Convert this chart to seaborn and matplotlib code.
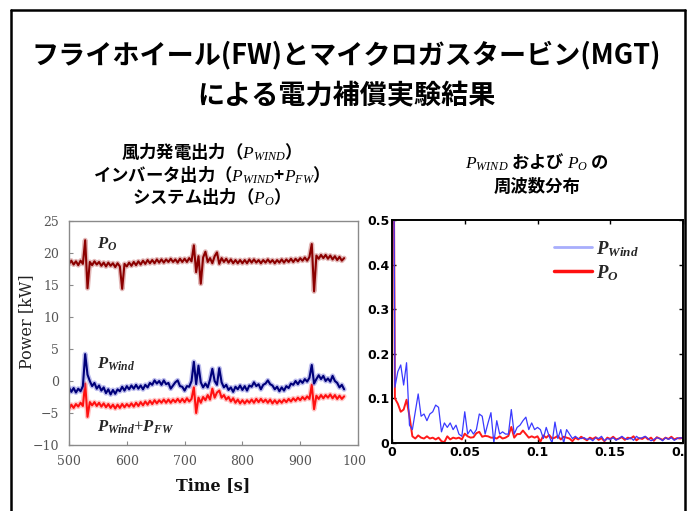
import numpy as np
import pandas as pd
import matplotlib
matplotlib.use("Agg")
import matplotlib.pyplot as plt
from matplotlib.lines import Line2D
from matplotlib.patches import Rectangle
import seaborn as sns

# ---- time-domain measurements (kW), sampled every 4 s from 500 s to 976 s ----
time_s = np.arange(500, 980, 4)

p_o = [18.3, 18.8, 18.2, 18.7, 18.1, 18.8, 18.3, 22.0, 14.5, 18.6,
       18.1, 18.7, 18.2, 18.6, 18.0, 18.5, 17.9, 18.5, 18.0, 18.4,
       17.8, 18.4, 17.9, 14.4, 18.3, 17.9, 18.5, 18.0, 18.6, 18.1,
       18.7, 18.2, 18.8, 18.3, 18.9, 18.4, 18.9, 18.4, 19.0, 18.5,
       19.0, 18.5, 19.0, 18.6, 19.1, 18.6, 19.0, 18.5, 19.1, 18.6,
       19.1, 18.6, 19.2, 18.7, 21.2, 17.0, 19.5, 15.2, 19.3, 20.2,
       18.6, 19.2, 18.4, 19.5, 20.1, 18.3, 19.2, 18.6, 19.1, 18.5,
       19.0, 18.4, 18.9, 18.4, 18.9, 18.4, 18.9, 18.4, 19.0, 18.5,
       19.0, 18.5, 18.9, 18.4, 18.9, 18.5, 19.0, 18.5, 18.9, 18.4,
       18.9, 18.5, 19.0, 18.5, 19.0, 18.6, 19.1, 18.6, 19.1, 18.7,
       19.2, 18.8, 19.3, 18.8, 19.4, 21.4, 14.0, 19.6, 19.1, 19.7,
       19.2, 19.7, 19.1, 19.6, 19.0, 19.5, 18.9, 19.4, 18.8, 19.2]

p_wind = [-1.0, -1.7, -1.1, -1.8, -1.2, -1.6, -0.8, 4.2, 1.0, 0.0,
          -0.8, -0.3, -1.2, -0.7, -1.5, -1.0, -1.9, -1.3, -2.1, -1.4,
          -2.0, -1.3, -1.6, -0.9, -1.5, -0.8, -1.3, -0.7, -1.2, -0.6,
          -1.2, -0.7, -1.3, -0.6, -1.0, -0.3, -0.6, 0.1, -0.4, 0.0,
          -0.6, 0.1, -0.5, -0.3, -1.2, -0.7, -0.2, 0.1, -0.8, -0.9,
          -1.5, -0.8, -0.9, 0.0, 3.0, -0.5, 2.4, -0.2, -1.0, -0.4,
          -1.0, 0.2, 1.9, 0.0, -0.6, 2.0, -0.2, -1.0, -0.6, -1.4,
          -1.0, -1.7, -0.9, -1.3, -0.7, -1.4, -0.8, -1.5, -0.7, -0.9,
          -0.2, -0.8, -0.5, -1.3, -0.6, -0.4, 0.1, -0.5, -0.7, -1.3,
          -0.9, -1.6, -1.0, -1.5, -0.8, -1.1, -0.4, -0.6, 0.0, -0.5,
          0.1, -0.3, 0.3, -0.1, 0.5, 2.5, -0.4, 0.3, 0.9, 0.3,
          0.8, 0.0, 0.4, -0.1, 0.8, 0.0, -0.3, -1.0, -0.6, -1.3]

p_wind_fw = [-4.4, -3.7, -4.2, -3.6, -4.0, -3.4, -3.9, -0.4, -5.6, -3.3,
             -3.8, -3.3, -3.9, -3.4, -4.0, -3.5, -4.1, -3.6, -4.2, -3.7,
             -4.3, -3.7, -4.2, -3.6, -4.1, -3.6, -4.0, -3.5, -4.0, -3.4,
             -3.9, -3.3, -3.8, -3.2, -3.7, -3.1, -3.6, -3.0, -3.5, -3.0,
             -3.4, -2.9, -3.4, -2.9, -3.4, -2.9, -3.3, -2.8, -3.3, -2.8,
             -3.3, -2.7, -3.2, -2.8, -1.0, -5.0, -2.6, -3.4, -2.5, -3.0,
             -2.2, -2.9, -1.2, -2.6, -1.8, -1.5, -2.6, -2.2, -2.9, -2.5,
             -3.2, -2.7, -3.4, -2.9, -3.5, -3.0, -3.5, -3.0, -3.4, -2.9,
             -3.4, -2.8, -3.3, -2.8, -3.3, -2.9, -3.4, -2.9, -3.5, -3.0,
             -3.5, -3.0, -3.4, -2.9, -3.3, -2.8, -3.2, -2.7, -3.1, -2.6,
             -3.0, -2.5, -2.9, -2.4, -2.8, -0.6, -4.4, -2.3, -2.8, -2.2,
             -2.7, -2.2, -2.6, -2.1, -2.7, -2.2, -2.8, -2.3, -2.8, -2.4]

# ---- frequency distribution, bins of 0.002 Hz from 0 to 0.2 Hz ----
freq_hz = np.arange(101) * 0.002

spec_wind = [1.5, 0.125, 0.16, 0.175, 0.13, 0.18, 0.04, 0.03, 0.07, 0.11,
             0.06, 0.065, 0.05, 0.065, 0.07, 0.085, 0.08, 0.025, 0.045, 0.035,
             0.045, 0.03, 0.04, 0.02, 0.015, 0.07, 0.02, 0.03, 0.02, 0.03,
             0.065, 0.06, 0.02, 0.045, 0.068, 0.0, 0.05, 0.02, 0.025, 0.02,
             0.02, 0.075, 0.02, 0.035, 0.04, 0.05, 0.058, 0.03, 0.045, 0.03,
             0.035, 0.03, 0.01, 0.035, 0.015, 0.0, 0.047, 0.01, 0.03, 0.0,
             0.03, 0.02, 0.01, 0.015, 0.01, 0.01, 0.012, 0.008, 0.01, 0.005,
             0.012, 0.01, 0.015, 0.005, 0.01, 0.008, 0.012, 0.006, 0.01, 0.015,
             0.01, 0.008, 0.012, 0.006, 0.015, 0.01, 0.012, 0.015, 0.01, 0.005,
             0.008, 0.012, 0.01, 0.005, 0.012, 0.008, 0.012, 0.006, 0.01, 0.012,
             0.01]

spec_o = [1.5, 0.10, 0.088, 0.07, 0.075, 0.097, 0.06, 0.015, 0.01, 0.017,
          0.012, 0.01, 0.015, 0.01, 0.012, 0.008, 0.012, 0.004, 0.002, 0.015,
          0.008, 0.012, 0.01, 0.012, 0.008, 0.021, 0.015, 0.012, 0.013, 0.022,
          0.025, 0.014, 0.016, 0.015, 0.012, 0.012, 0.01, 0.015, 0.01, 0.012,
          0.016, 0.036, 0.012, 0.02, 0.02, 0.028, 0.02, 0.012, 0.015, 0.012,
          0.015, 0.003, 0.017, 0.012, 0.018, 0.01, 0.012, 0.016, 0.008, 0.014,
          0.012, 0.01, 0.004, 0.012, 0.008, 0.014, 0.01, 0.006, 0.012, 0.009,
          0.013, 0.007, 0.011, 0.004, 0.012, 0.009, 0.014, 0.008, 0.01, 0.013,
          0.007, 0.012, 0.01, 0.015, 0.006, 0.011, 0.009, 0.014, 0.008, 0.012,
          0.005, 0.013, 0.01, 0.007, 0.012, 0.009, 0.014, 0.008, 0.011, 0.01,
          0.012]

x_ticks_time = [500, 600, 700, 800, 900, 1000]
y_ticks_power = [-10, -5, 0, 5, 10, 15, 20, 25]
x_ticks_freq = [0, 0.05, 0.1, 0.15, 0.2]
x_ticklabels_freq = ["0", "0.05", "0.1", "0.15", "0.2"]
y_ticks_freq = [0, 0.1, 0.2, 0.3, 0.4, 0.5]
y_ticklabels_freq = ["0", "0.1", "0.2", "0.3", "0.4", "0.5"]

sns.set_style("white")
plt.rcParams["font.family"] = ["Noto Sans CJK JP", "DejaVu Sans"]
plt.rcParams["mathtext.fontset"] = "custom"
plt.rcParams["mathtext.it"] = "Liberation Serif:italic"
plt.rcParams["mathtext.rm"] = "Liberation Serif"
plt.rcParams["mathtext.bf"] = "Liberation Serif:bold:italic"

W, H = 693, 511
fig = plt.figure(figsize=(W / 100, H / 100), dpi=100)
fig.patch.set_facecolor("white")


def fx(px):
    return px / W


def fy(py):
    return 1 - py / H


# ---- left: power time series ----
ax1 = fig.add_axes([fx(69), fy(445), fx(358 - 69), (445 - 221) / H])
ax1.set_zorder(0)
ts = pd.DataFrame({"t": time_s, "po": p_o, "pw": p_wind, "pwfw": p_wind_fw})
series = [("po", "#8b0000", "#c06060"),
          ("pwfw", "#ff1010", "#ff8080"),
          ("pw", "#00007a", "#6f6fd8")]
for col, core, halo in series:
    # soft halo for the measurement noise band, then the trace itself
    sns.lineplot(data=ts, x="t", y=col, ax=ax1, color=halo, lw=3.6, alpha=0.45,
                 estimator=None)
    sns.lineplot(data=ts, x="t", y=col, ax=ax1, color=core, lw=1.5, estimator=None)
ax1.set_xlim(500, 1000)
ax1.set_ylim(-10, 25)
ax1.set_xticks(x_ticks_time)
ax1.set_yticks(y_ticks_power)
for sp in ax1.spines.values():
    sp.set_color("#8a8a8a")
    sp.set_linewidth(1.0)
ax1.tick_params(axis="both", direction="in", length=3, width=0.8, color="#8a8a8a",
                labelsize=9, labelcolor="#555555", pad=7,
                bottom=True, left=True, top=False, right=False)
for lab in ax1.get_xticklabels() + ax1.get_yticklabels():
    lab.set_family("DejaVu Serif")
ax1.set_xlabel("Time [s]", family="DejaVu Serif", fontweight="bold", fontsize=11.5,
               color="#111111", labelpad=7)
ax1.set_ylabel("Power [kW]", family="DejaVu Serif", fontsize=11.5, color="#222222")
ax1.yaxis.set_label_coords((35 - 69) / 289, 0.55)
ax1.text(549, 21.3, r"$\mathbf{P_{O}}$", fontsize=12, va="center", ha="left")
ax1.text(549, 2.6, r"$\mathbf{P_{Wind}}$", fontsize=12, va="center", ha="left")
ax1.text(549, -7.2, r"$\mathbf{P_{Wind}}$+$\mathbf{P_{FW}}$", fontsize=12,
         va="center", ha="left", family="Liberation Serif")

# backdrop of the right-hand picture, which hides the end of the "1000" label
fig.patches.append(Rectangle((fx(366), 0), fx(685 - 366), fy(200), transform=fig.transFigure,
                             facecolor="white", edgecolor="none", zorder=0.5))

# ---- right: frequency distribution ----
ax2 = fig.add_axes([fx(392), fy(443), fx(683 - 392), (443 - 220) / H])
ax2.set_zorder(1)
sp_df = pd.DataFrame({"f": freq_hz, "wind": spec_wind, "o": spec_o})
sns.lineplot(data=sp_df, x="f", y="o", ax=ax2, color="#ff1a1a", lw=1.4, estimator=None)
sns.lineplot(data=sp_df, x="f", y="wind", ax=ax2, color="#3a3aff", lw=0.9, estimator=None)
ax2.set_xlim(0, 0.2)
ax2.set_ylim(0, 0.5)
ax2.set_xticks(x_ticks_freq)
ax2.set_xticklabels(x_ticklabels_freq)
ax2.set_yticks(y_ticks_freq)
ax2.set_yticklabels(y_ticklabels_freq)
ax2.set_xlabel("")
ax2.set_ylabel("")
for sp in ax2.spines.values():
    sp.set_color("black")
    sp.set_linewidth(1.4)
ax2.tick_params(axis="both", direction="in", length=3, width=1.0, color="black",
                labelsize=9, labelcolor="black", pad=2,
                bottom=True, left=True, top=True, right=True)
for lab in ax2.get_xticklabels() + ax2.get_yticklabels():
    lab.set_family("DejaVu Sans")
    lab.set_fontweight("bold")
handles = [Line2D([], [], color="#a8aefc", lw=2.0), Line2D([], [], color="#ff1010", lw=2.5)]
ax2.legend(handles, [r"$\mathbf{P_{Wind}}$", r"$\mathbf{P_{O}}$"], loc="upper left",
           bbox_to_anchor=(0.5, 0.995), frameon=False, fontsize=13.5,
           handlelength=2.0, handletextpad=0.2, labelspacing=0.15)

# margin right of the slide frame
fig.patches.append(Rectangle((fx(686), 0), fx(W - 686), 1, transform=fig.transFigure,
                             facecolor="white", edgecolor="none", zorder=3))

# ---- slide frame ----
frame_kw = dict(transform=fig.transFigure, color="black", lw=1.8, zorder=4)
fig.add_artist(Line2D([fx(11), fx(11)], [0, fy(10)], **frame_kw))
fig.add_artist(Line2D([fx(11), fx(685)], [fy(10), fy(10)], **frame_kw))
fig.add_artist(Line2D([fx(685), fx(685)], [0, fy(10)], **frame_kw))

# ---- titles ----
fig.text(0.5, fy(55), "フライホイール(FW)とマイクロガスタービン(MGT)", ha="center", va="center",
         fontsize=19.5, fontweight="bold", color="black")
fig.text(0.5, fy(95), "による電力補償実験結果", ha="center", va="center",
         fontsize=19.5, fontweight="bold", color="black")

sub_kw = dict(ha="center", va="center", fontsize=12.5, fontweight="bold", color="black")
fig.text(fx(207), fy(152), r"風力発電出力（$P_{WIND}$）", **sub_kw)
fig.text(fx(207), fy(175), r"インバータ出力（$P_{WIND}$+$P_{FW}$）", **sub_kw)
fig.text(fx(207), fy(197), r"システム出力（$P_{O}$）", **sub_kw)
fig.text(fx(537), fy(162), r"$P_{WIND}$ および $P_{O}$ の", **sub_kw)
fig.text(fx(537), fy(187), "周波数分布", **sub_kw)

fig.savefig("out.png", dpi=100, facecolor="white")
